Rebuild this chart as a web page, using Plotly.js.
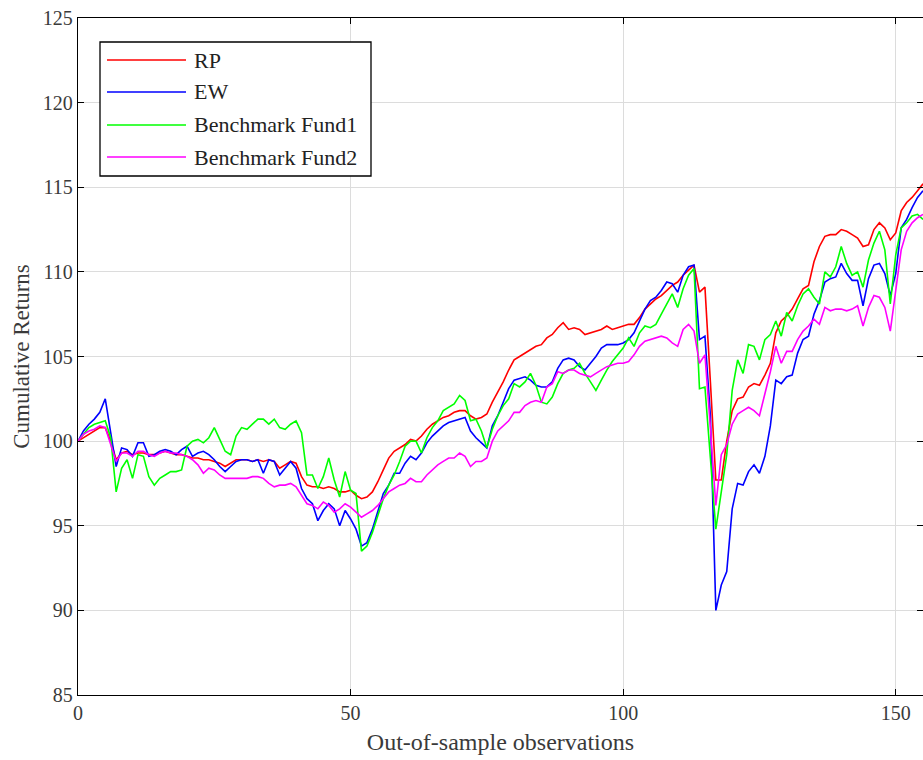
<!DOCTYPE html>
<html>
<head>
<meta charset="utf-8">
<script src="https://cdn.plot.ly/plotly-3.0.1.min.js"></script>
<style>html,body{margin:0;padding:0;background:#fff;}#chart{width:923px;height:760px;}</style>
</head>
<body>
<div id="chart"></div>
<script>
// Series names and colours
const seriesNames = ["RP", "EW", "Benchmark Fund1", "Benchmark Fund2"];
const seriesColors = ["#ff0000", "#0000ff", "#00ff00", "#ff00ff"];

// Cumulative returns, observation 0..155
const rp = [
100.0,100.2,100.4,100.6,100.8,100.8,100.0,98.9,99.3,99.4,
99.2,99.3,99.3,99.2,99.2,99.3,99.4,99.3,99.2,99.2,
99.1,99.0,99.0,98.9,98.9,98.8,98.7,98.5,98.7,98.9,
98.9,98.9,98.8,98.9,98.8,98.9,98.8,98.4,98.6,98.8,
98.7,97.9,97.4,97.3,97.3,97.2,97.3,97.2,97.0,97.0,
97.1,96.8,96.6,96.7,97.0,97.6,98.3,99.0,99.4,99.6,
99.8,100.1,100.0,100.3,100.7,101.0,101.2,101.4,101.5,101.7,
101.8,101.8,101.5,101.3,101.4,101.6,102.3,102.9,103.5,104.2,
104.8,105.0,105.2,105.4,105.6,105.7,106.1,106.3,106.7,107.0,
106.6,106.7,106.6,106.3,106.4,106.5,106.6,106.8,106.6,106.7,
106.8,106.9,106.9,107.3,107.8,108.1,108.4,108.6,108.9,109.2,
109.4,109.8,110.1,110.4,108.8,109.1,103.5,97.7,97.7,100.0,
101.8,102.5,102.6,103.2,103.4,103.3,103.9,104.6,106.4,107.1,
107.4,107.8,108.4,109.0,109.2,110.6,111.5,112.1,112.2,112.2,
112.5,112.4,112.2,112.0,111.5,111.6,112.5,112.9,112.6,111.9,
112.3,113.6,114.1,114.4,114.8,115.2];

const ew = [
100.0,100.6,101.0,101.3,101.7,102.5,100.5,98.5,99.6,99.5,
99.1,99.9,99.9,99.1,99.2,99.4,99.5,99.4,99.2,99.5,
99.7,99.1,99.3,99.4,99.2,98.9,98.5,98.2,98.5,98.8,
98.9,98.9,98.8,98.9,98.1,98.9,98.8,98.0,98.4,98.8,
98.4,97.2,96.6,96.3,95.3,95.9,96.3,96.0,95.0,95.9,
95.4,94.8,93.8,94.0,94.8,95.9,96.9,97.4,98.1,98.1,
98.7,99.1,98.9,99.3,99.9,100.3,100.6,100.9,101.1,101.2,
101.3,101.4,100.6,100.2,99.9,99.6,100.9,101.5,102.3,103.1,
103.6,103.7,103.8,103.6,103.3,103.2,103.2,103.5,104.3,104.8,
104.9,104.8,104.4,104.2,104.6,105.0,105.5,105.7,105.7,105.7,
105.8,106.0,106.4,107.1,107.8,108.3,108.5,108.9,109.4,109.3,
108.8,109.8,110.3,110.4,106.0,106.2,101.5,90.0,91.5,92.3,
96.0,97.5,97.4,98.2,98.6,98.1,99.1,100.9,103.6,103.4,
103.8,103.9,105.2,106.0,106.2,107.5,108.3,109.4,109.6,109.7,
110.5,109.9,109.5,109.5,108.0,109.6,110.4,110.5,109.9,108.6,
109.9,112.6,113.1,113.8,114.4,114.8];

const fund1 = [
100.0,100.4,100.8,101.0,101.1,101.2,100.2,97.0,98.4,98.9,
97.8,99.2,99.1,97.9,97.4,97.8,98.0,98.2,98.2,98.3,
99.7,100.0,100.1,99.9,100.2,100.8,100.1,99.4,99.2,100.3,
100.8,100.7,101.0,101.3,101.3,101.0,101.3,100.8,100.7,101.0,
101.2,100.5,98.0,98.0,97.2,97.9,99.0,97.7,96.7,98.2,
97.1,96.9,93.5,93.8,94.6,95.6,96.6,97.4,98.0,98.8,
99.7,100.0,100.0,99.3,100.2,100.8,101.2,101.8,102.0,102.2,
102.7,102.4,101.2,101.3,100.6,99.6,100.7,101.5,102.1,102.5,
103.4,103.2,103.5,104.0,103.3,102.3,102.2,102.6,103.4,104.0,
104.2,104.3,104.6,104.0,103.5,103.0,103.6,104.2,104.7,105.1,
105.5,106.1,105.6,106.4,106.8,106.7,106.9,107.5,108.1,108.7,
107.9,109.0,109.8,110.2,103.1,103.2,99.0,94.8,97.0,99.2,
103.0,104.8,104.0,105.7,105.6,104.8,106.0,106.3,107.1,106.2,
107.6,107.1,108.0,108.7,109.0,108.5,108.1,110.0,109.7,110.3,
111.5,110.5,109.8,110.0,109.1,110.7,111.7,112.4,111.3,108.1,
111.0,112.6,112.9,113.3,113.4,113.1];

const fund2 = [
100.0,100.4,100.6,100.7,100.9,100.8,99.8,98.8,99.3,99.3,
99.1,99.4,99.4,99.2,99.1,99.3,99.4,99.3,99.3,99.2,
99.1,98.9,98.6,98.1,98.4,98.3,98.0,97.8,97.8,97.8,
97.8,97.8,97.9,97.9,97.8,97.5,97.3,97.4,97.4,97.5,
97.3,96.8,96.3,96.2,96.0,96.4,96.2,95.8,96.0,96.3,
96.1,95.8,95.5,95.7,95.9,96.2,96.6,97.0,97.2,97.4,
97.5,97.8,97.6,97.6,98.0,98.3,98.6,98.8,99.0,99.0,
99.3,99.1,98.5,98.8,98.8,99.0,100.0,100.6,100.9,101.2,
101.7,101.7,102.1,102.3,102.4,102.3,103.2,103.4,104.1,104.0,
104.2,104.2,104.0,103.9,103.8,104.0,104.2,104.4,104.5,104.6,
104.6,104.7,105.1,105.6,105.9,106.0,106.1,106.2,106.1,105.8,
105.6,106.6,106.9,106.5,104.6,105.1,100.8,96.2,99.2,99.8,
101.0,101.6,101.8,102.0,101.8,101.5,102.8,104.1,105.6,104.6,
105.3,105.3,106.0,106.5,106.8,107.2,106.9,107.9,107.7,107.8,
107.8,107.7,107.8,108.0,106.8,107.9,108.6,108.5,107.9,106.5,
108.9,111.3,112.4,112.9,113.2,113.4];

const allSeries = [rp, ew, fund1, fund2];

// Axis texts and ticks
const xTitle = "Out-of-sample observations";
const yTitle = "Cumulative Returns";
const xTicks = [0, 50, 100, 150];
const yTicks = [85, 90, 95, 100, 105, 110, 115, 120, 125];

const FONT = "Liberation Serif, Times New Roman, serif";
const TXT = "#3a3a3a";

const traces = allSeries.map((ys, i) => ({
  type: "scatter", mode: "lines",
  name: seriesNames[i],
  x0: 0, dx: 1, y: ys,
  line: {color: seriesColors[i], width: 1.6},
  showlegend: false,
  hoverinfo: "skip"
}));

// Plot area in pixels (for legend placement)
const L = 78, R = 0, T = 18, B = 65, W = 923, H = 760;
const pw = W - L - R, ph = H - T - B;
const px = v => (v - L) / pw;
const py = v => 1 - (v - T) / ph;

const shapes = [{
  type: "rect", xref: "paper", yref: "paper",
  x0: px(100), x1: px(371), y0: py(176), y1: py(42),
  line: {color: "#000", width: 1.3}, fillcolor: "#fff", layer: "above"
}];
const annotations = [];
const rowY = [60, 92, 125, 157];
seriesNames.forEach((n, i) => {
  shapes.push({
    type: "line", xref: "paper", yref: "paper",
    x0: px(107), x1: px(186), y0: py(rowY[i]), y1: py(rowY[i]),
    line: {color: seriesColors[i], width: 1.6}, layer: "above"
  });
  annotations.push({
    xref: "paper", yref: "paper", x: px(192), y: py(rowY[i]),
    xanchor: "left", yanchor: "middle", showarrow: false,
    text: n, font: {family: FONT, size: 22, color: "#222"}
  });
});

const axisCommon = {
  showline: true, linecolor: "#000", linewidth: 1.3, mirror: "ticks",
  ticks: "inside", ticklen: 6, tickcolor: "#000", tickwidth: 1,
  showgrid: true, gridcolor: "#dcdcdc", gridwidth: 1,
  zeroline: false,
  tickfont: {family: FONT, size: 20, color: TXT}
};

const layout = {
  width: W, height: H,
  margin: {l: L, r: R, t: T, b: B},
  paper_bgcolor: "#fff", plot_bgcolor: "#fff",
  showlegend: false,
  xaxis: Object.assign({}, axisCommon, {
    range: [0, 155], tickvals: xTicks, ticktext: xTicks.map(String),
    title: {text: xTitle, font: {family: FONT, size: 24, color: TXT}, standoff: 10}
  }),
  yaxis: Object.assign({}, axisCommon, {
    range: [85, 125], tickvals: yTicks, ticktext: yTicks.map(String),
    title: {text: yTitle, font: {family: FONT, size: 23, color: TXT}, standoff: 6}
  }),
  shapes: shapes,
  annotations: annotations
};

Plotly.newPlot("chart", traces, layout, {staticPlot: true, displayModeBar: false});
</script>
</body>
</html>
